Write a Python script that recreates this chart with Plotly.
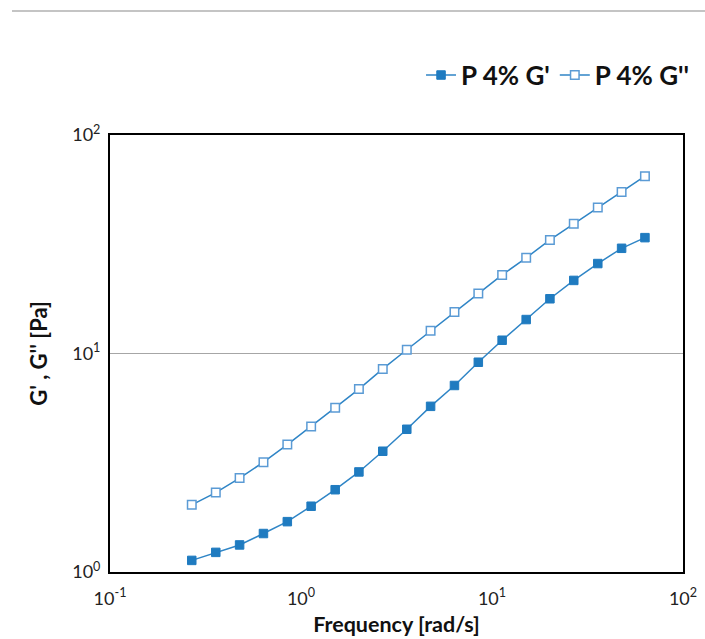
import plotly.graph_objects as go

# Frequency sweep, angular frequency in rad/s
frequency = [0.268, 0.358, 0.477, 0.636, 0.848, 1.13, 1.51, 2.01, 2.68, 3.58,
             4.77, 6.36, 8.48, 11.3, 15.1, 20.1, 26.8, 35.8, 47.7, 63.2]

# Storage modulus G' [Pa]
g_storage = [1.13, 1.23, 1.33, 1.50, 1.70, 2.00, 2.38, 2.87, 3.57, 4.50,
             5.73, 7.14, 9.12, 11.5, 14.3, 17.8, 21.6, 25.8, 30.3, 33.9]

# Loss modulus G'' [Pa]
g_loss = [2.03, 2.31, 2.69, 3.18, 3.83, 4.63, 5.65, 6.87, 8.50, 10.4,
          12.7, 15.5, 18.8, 22.9, 27.4, 33.1, 39.2, 46.6, 54.9, 64.8]

series_names = ["P 4% G'", "P 4% G''"]

x_tick_vals = [0.1, 1, 10, 100]
x_tick_text = ["10<sup>-1</sup>", "10<sup>0</sup>", "10<sup>1</sup>", "10<sup>2</sup>"]
y_tick_vals = [1, 10, 100]
y_tick_text = ["10<sup>0</sup>", "10<sup>1</sup>", "10<sup>2</sup>"]

LINE_BLUE = "#2F85C6"
FILL_BLUE = "#1F7BC0"
OPEN_EDGE = "#5B9BD5"
FONT = "Lato, 'Open Sans', sans-serif"

fig = go.Figure()
fig.add_trace(go.Scatter(
    x=frequency, y=g_storage, name=series_names[0], mode="lines+markers",
    line=dict(color=LINE_BLUE, width=1.5),
    marker=dict(symbol="square", size=8.5, color=FILL_BLUE,
                line=dict(color=FILL_BLUE, width=1)),
))
fig.add_trace(go.Scatter(
    x=frequency, y=g_loss, name=series_names[1], mode="lines+markers",
    line=dict(color=LINE_BLUE, width=1.5),
    marker=dict(symbol="square", size=8.5, color="white",
                line=dict(color=OPEN_EDGE, width=1.5)),
))

fig.update_xaxes(
    type="log", range=[-1, 2], automargin=False,
    tickmode="array", tickvals=x_tick_vals, ticktext=x_tick_text,
    showgrid=False, zeroline=False,
    showline=True, linecolor="black", linewidth=2, mirror=True,
    ticks="", ticklabelstandoff=9,
    tickfont=dict(family=FONT, size=18, color="#222"),
    title=dict(text="<b>Frequency [rad/s]</b>", standoff=9,
               font=dict(family=FONT, size=21.5, color="#111")),
)
fig.update_yaxes(
    type="log", range=[0, 2], automargin=False,
    tickmode="array", tickvals=y_tick_vals, ticktext=y_tick_text,
    showgrid=True, gridcolor="#A6A6A6", gridwidth=1, zeroline=False,
    showline=True, linecolor="black", linewidth=2, mirror=True,
    ticks="", ticklabelstandoff=4,
    tickfont=dict(family=FONT, size=18, color="#222"),
    title=dict(text="<b>G' , G'' [Pa]</b>", standoff=18,
               font=dict(family=FONT, size=22, color="#111")),
)

# thin rule across the top of the page
fig.add_shape(type="line", xref="paper", yref="paper",
              x0=-0.171, x1=1.06, y0=1.284, y1=1.284,
              line=dict(color="#C4C4C4", width=2))

fig.update_layout(
    width=705, height=639,
    margin=dict(l=110, r=22, t=135, b=67, autoexpand=False),
    paper_bgcolor="white", plot_bgcolor="white",
    font=dict(family=FONT),
    showlegend=True,
    legend=dict(
        orientation="h", x=1.021, xanchor="right", y=1.137, yanchor="middle",
        font=dict(family=FONT, size=26, color="#111", weight="bold"),
        bgcolor="rgba(0,0,0,0)", itemwidth=30, tracegroupgap=0,
    ),
)

fig.write_html("out.html")
